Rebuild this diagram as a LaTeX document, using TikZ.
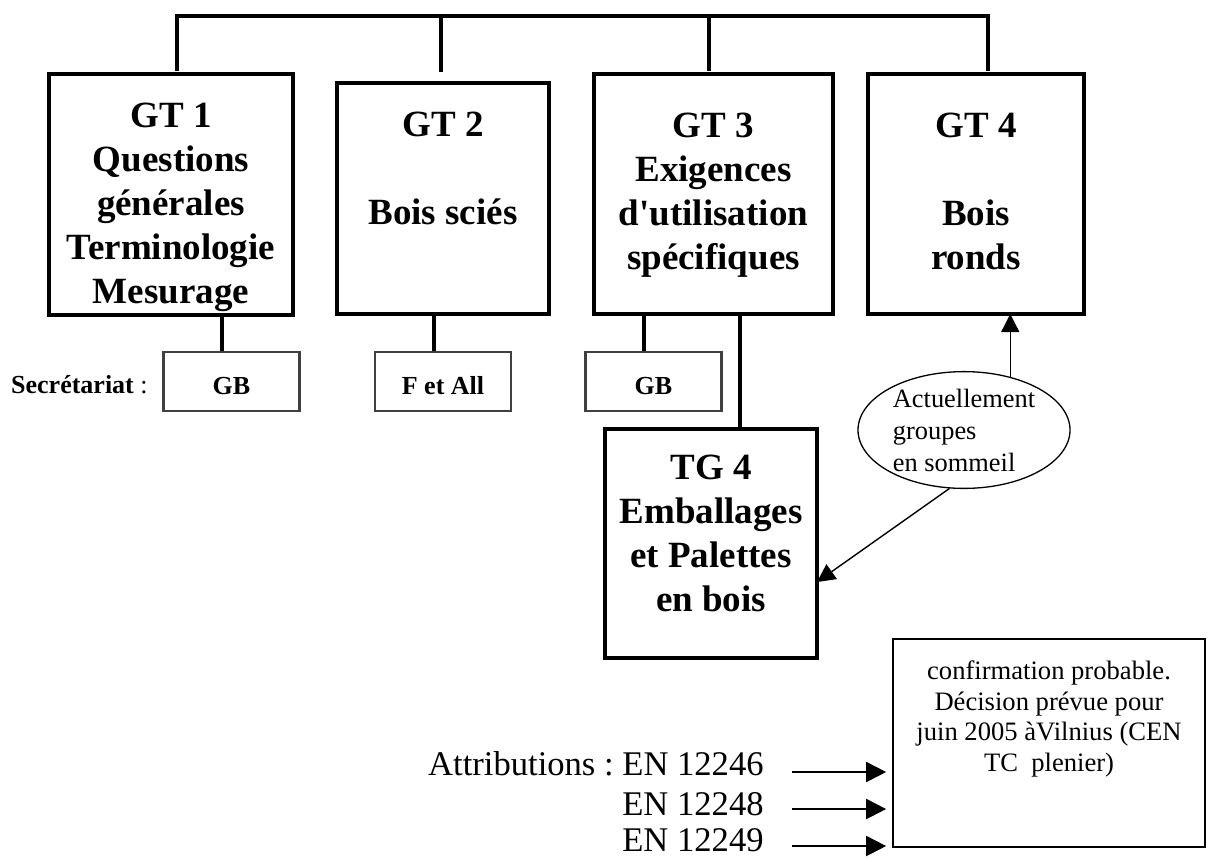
\documentclass[tikz,border=0pt]{standalone}
\usepackage{fontspec}
\setmainfont{Liberation Serif}[Ligatures=TeXOff]
\usetikzlibrary{arrows.meta,positioning,shapes.geometric,calc}
\frenchspacing

\begin{document}
\begin{tikzpicture}[
        x=0.5pt, y=-0.5pt,
        gt/.style={draw, line width=1.7pt, inner sep=0pt, outer sep=0pt},
        gttxt/.style={font=\bfseries\fontsize{18.5}{21.9}\selectfont,
            align=center, inner sep=0pt},
        sec/.style={draw=black!75, line width=1.35pt, minimum width=68pt,
            minimum height=29.5pt, inner sep=0pt, text height=13pt,
            text depth=0pt, font=\bfseries\fontsize{13}{15}\selectfont},
        link/.style={line width=1.7pt},
        arr/.style={line width=0.7pt, -{Triangle[length=9pt,width=9pt]}},
        attrarr/.style={line width=1pt, -{Triangle[length=10pt,width=10pt]},
            shorten >=3pt},
        attr/.style={font=\fontsize{17.3}{20}\selectfont, inner sep=0pt,
            anchor=base east},
    ]
    \useasboundingbox (0,0) rectangle (1208,858);

    % working groups
    \node[gt, minimum width=122pt, minimum height=120.5pt] (gt1) at (171,194.5) {};
    \node[gt, minimum width=106pt, minimum height=115.5pt] (gt2) at (443,198.5) {};
    \node[gt, minimum width=119.5pt, minimum height=120pt] (gt3) at (713.5,194) {};
    \node[gt, minimum width=108pt, minimum height=120pt] (gt4) at (976,194) {};
    \node[gt, minimum width=106pt, minimum height=114.5pt] (tg4) at (711,543.5) {};

    \node[gttxt, below=14.5pt of gt1.north] (gt1t)
        {GT 1\\Questions\\générales\\Terminologie\\Mesurage};
    \node[gttxt, below=14.5pt of gt2.north] (gt2t) {GT 2\\[21.9pt]Bois sciés};
    \node[gttxt, below=19.5pt of gt3.north] (gt3t)
        {GT 3\\Exigences\\d'utilisation\\spécifiques};
    \node[gttxt, below=19.5pt of gt4.north] (gt4t) {GT 4\\[21.9pt]Bois\\ronds};
    \node[gttxt, below=13pt of tg4.north] (tg4t)
        {TG 4\\Emballages\\et Palettes\\en bois};

    % top bus
    \coordinate (b1) at (177,16);
    \coordinate (b2) at (441,16);
    \coordinate (b3) at (709,16);
    \coordinate (b4) at (988,16);
    \draw[link, line join=miter] ($(b1)+(0,55)$) -- (b1) -- (b4) -- ++(0,55);
    \draw[link] (b2) -- ++(0,56);
    \draw[link] (b3) -- ++(0,55);

    % secretariats
    \node[font=\fontsize{13}{15}\selectfont, inner sep=0pt, anchor=base east]
        (sect) at (148,393) {\textbf{Secrétariat} :};
    \node[sec] (gb1) at (231.5,381.5) {GB};
    \node[sec] (fall) at (443,381.5) {F et All};
    \node[sec] (gb2) at (653.5,381.5) {GB};

    \draw[link] ([xshift=-4.75pt]gb1.north) -- ([xshift=-4.75pt]gb1.north |- gt1.south);
    \draw[link] ([xshift=-4.5pt]fall.north) -- ([xshift=-4.5pt]fall.north |- gt2.south);
    \draw[link] ([xshift=-4.75pt]gb2.north) -- ([xshift=-4.75pt]gb2.north |- gt3.south);
    \draw[link] ([xshift=14.5pt]tg4.north) -- ([xshift=14.5pt]tg4.north |- gt3.south);

    % sleeping groups
    \node[ellipse, draw, line width=0.65pt, minimum width=106pt,
        minimum height=58pt, inner sep=0pt, align=left,
        font=\fontsize{13.2}{16}\selectfont] (ell) at (964,430)
        {Actuellement\\groupes\\en sommeil};
    \draw[arr] (ell.49) -- (ell.49 |- gt4.south);
    \draw[arr] (ell.256) -- ([yshift=-19.25pt]tg4.east);

    % attributions
    \node[draw, line width=0.85pt, minimum width=156pt, minimum height=104pt,
        inner sep=0pt] (note) at (1049,743) {};
    \node[below=11pt of note.north, align=center, inner sep=0pt,
        font=\fontsize{13.3}{15.4}\selectfont] (notet)
        {confirmation probable.\\Décision prévue pour\\juin 2005 àVilnius (CEN\\TC\ \ plenier)};

    \node[attr] (a1) at (764,775) {Attributions : EN 12246};
    \node[attr] (a2) at (764,815) {EN 12248};
    \node[attr] (a3) at (764,851) {EN 12249};
    \foreach \a/\s in {a1/1.5pt,a2/3pt,a3/2.5pt}
        \draw[attrarr] ([xshift=14pt,yshift=\s]\a.base east)
            -- ([yshift=\s]\a.base east -| note.west);
\end{tikzpicture}
\end{document}
